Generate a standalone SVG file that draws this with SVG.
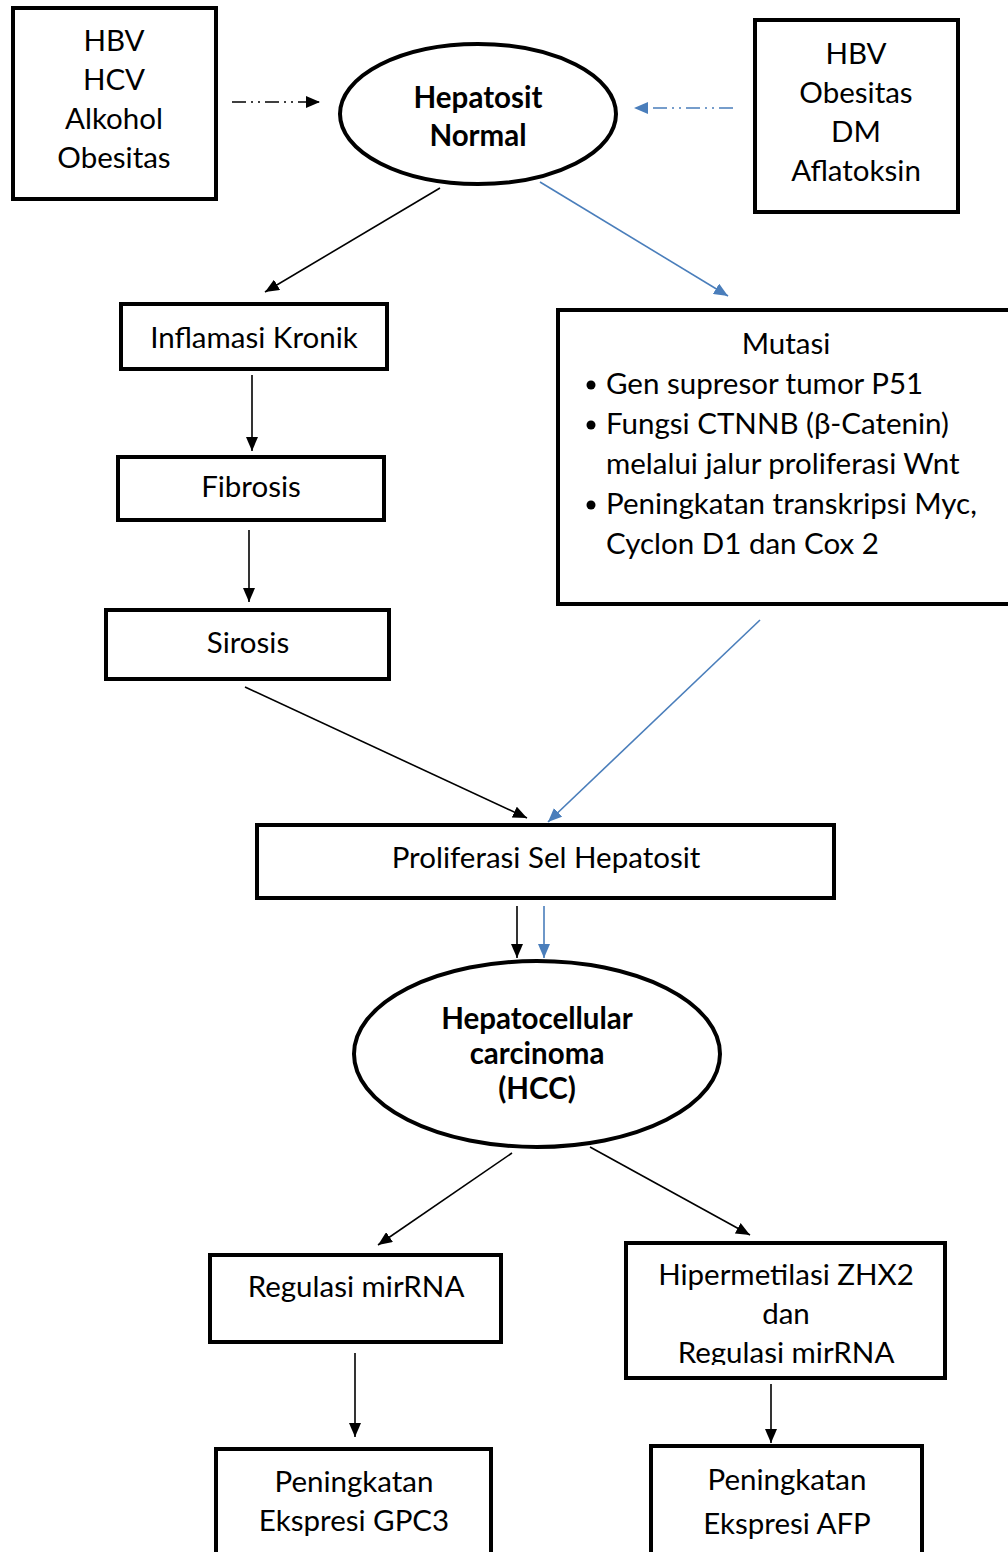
<svg xmlns="http://www.w3.org/2000/svg" width="1008" height="1552" viewBox="0 0 1008 1552">
<defs>
<marker id="ab" viewBox="0 0 14 12" refX="14" refY="6" markerWidth="14" markerHeight="12" markerUnits="userSpaceOnUse" orient="auto"><path d="M0,0 L14,6 L0,12 z" fill="#000"/></marker>
<marker id="abl" viewBox="0 0 14 12" refX="14" refY="6" markerWidth="14" markerHeight="12" markerUnits="userSpaceOnUse" orient="auto"><path d="M0,0 L14,6 L0,12 z" fill="#4a7ebb"/></marker>
<clipPath id="hipclip"><rect x="626" y="1243" width="319" height="122"/></clipPath>
</defs>
<style>
.box{fill:#fff;stroke:#000;stroke-width:4}
.t{font-family:Lato,"Open Sans","Liberation Sans",sans-serif;font-size:29.5px;fill:#000;text-anchor:middle}
.b{font-weight:bold}
.l{text-anchor:start}
.k{stroke:#000;stroke-width:1.6;fill:none}
.bl{stroke:#4a7ebb;stroke-width:1.6;fill:none}
</style>
<rect width="1008" height="1552" fill="#fff"/>

<g id="connectors">
<line class="k" x1="232" y1="102" x2="320" y2="102" stroke-dasharray="14 5 2 5 2 5" marker-end="url(#ab)"/>
<line class="bl" x1="733" y1="108" x2="634" y2="108" stroke-dasharray="14 5 2 5 2 5" marker-end="url(#abl)"/>
<line class="k" x1="440" y1="188" x2="265" y2="292" marker-end="url(#ab)"/>
<line class="bl" x1="540" y1="182" x2="728" y2="296" marker-end="url(#abl)"/>
<line class="k" x1="252" y1="375" x2="252" y2="451" marker-end="url(#ab)"/>
<line class="k" x1="249" y1="530" x2="249" y2="602" marker-end="url(#ab)"/>
<line class="k" x1="245" y1="687" x2="527" y2="818" marker-end="url(#ab)"/>
<line class="bl" x1="760" y1="620" x2="548" y2="822" marker-end="url(#abl)"/>
<line class="k" x1="517" y1="906" x2="517" y2="958" marker-end="url(#ab)"/>
<line class="bl" x1="544" y1="906" x2="544" y2="958" marker-end="url(#abl)"/>
<line class="k" x1="512" y1="1153" x2="378" y2="1245" marker-end="url(#ab)"/>
<line class="k" x1="590" y1="1147" x2="750" y2="1235" marker-end="url(#ab)"/>
<line class="k" x1="355" y1="1353" x2="355" y2="1437" marker-end="url(#ab)"/>
<line class="k" x1="771" y1="1384" x2="771" y2="1443" marker-end="url(#ab)"/>
</g>

<g id="risk-left">
<rect class="box" x="13" y="8" width="203" height="191"/>
<text class="t" x="114" y="51">HBV</text>
<text class="t" x="114" y="90">HCV</text>
<text class="t" x="114" y="129">Alkohol</text>
<text class="t" x="114" y="168">Obesitas</text>
</g>

<g id="hepatosit-normal">
<ellipse class="box" cx="478" cy="114" rx="138" ry="70"/>
<text class="t b" x="478" y="108">Hepatosit</text>
<text class="t b" x="478" y="146">Normal</text>
</g>

<g id="risk-right">
<rect class="box" x="755" y="20" width="203" height="192"/>
<text class="t" x="856" y="64">HBV</text>
<text class="t" x="856" y="103">Obesitas</text>
<text class="t" x="856" y="142">DM</text>
<text class="t" x="856" y="181">Aflatoksin</text>
</g>

<g id="inflamasi">
<rect class="box" x="121" y="304" width="266" height="65"/>
<text class="t" x="254" y="348">Inflamasi Kronik</text>
</g>

<g id="fibrosis">
<rect class="box" x="118" y="457" width="266" height="63"/>
<text class="t" x="251" y="497" font-size="25">Fibrosis</text>
</g>

<g id="sirosis">
<rect class="box" x="106" y="610" width="283" height="69"/>
<text class="t" x="248" y="653">Sirosis</text>
</g>

<g id="mutasi">
<rect class="box" x="558" y="310" width="460" height="294"/>
<text class="t" x="786" y="354">Mutasi</text>
<circle cx="591" cy="385" r="4.5"/>
<circle cx="591" cy="425" r="4.5"/>
<circle cx="591" cy="505" r="4.5"/>
<text class="t l" x="606" y="394">Gen supresor tumor P51</text>
<text class="t l" x="606" y="434">Fungsi CTNNB (β-Catenin)</text>
<text class="t l" x="606" y="474">melalui jalur proliferasi Wnt</text>
<text class="t l" x="606" y="514">Peningkatan transkripsi Myc,</text>
<text class="t l" x="606" y="554">Cyclon D1 dan Cox 2</text>
</g>

<g id="proliferasi">
<rect class="box" x="257" y="825" width="577" height="73"/>
<text class="t" x="546" y="868">Proliferasi Sel Hepatosit</text>
</g>

<g id="hcc">
<ellipse class="box" cx="537" cy="1054" rx="183" ry="93"/>
<text class="t b" x="537" y="1029" font-size="23.8">Hepatocellular</text>
<text class="t b" x="537" y="1064" font-size="23.8">carcinoma</text>
<text class="t b" x="537" y="1099" font-size="23.8">(HCC)</text>
</g>

<g id="regulasi">
<rect class="box" x="210" y="1255" width="291" height="87"/>
<text class="t" x="356" y="1297" font-size="29">Regulasi mirRNA</text>
</g>

<g id="hipermetilasi">
<rect class="box" x="626" y="1243" width="319" height="135"/>
<g clip-path="url(#hipclip)">
<text class="t" x="786" y="1285" font-size="28.5">Hipermetilasi ZHX2</text>
<text class="t" x="786" y="1324" font-size="28.5">dan</text>
<text class="t" x="786" y="1363" font-size="28.5">Regulasi mirRNA</text>
</g>
</g>

<g id="gpc3">
<rect class="box" x="216" y="1449" width="275" height="110"/>
<text class="t" x="354" y="1492" font-size="27.6">Peningkatan</text>
<text class="t" x="354" y="1531" font-size="27.6">Ekspresi GPC3</text>
</g>

<g id="afp">
<rect class="box" x="651" y="1446" width="271" height="113"/>
<text class="t" x="787" y="1490" font-size="28.4">Peningkatan</text>
<text class="t" x="787" y="1534" font-size="28.4">Ekspresi AFP</text>
</g>
</svg>
